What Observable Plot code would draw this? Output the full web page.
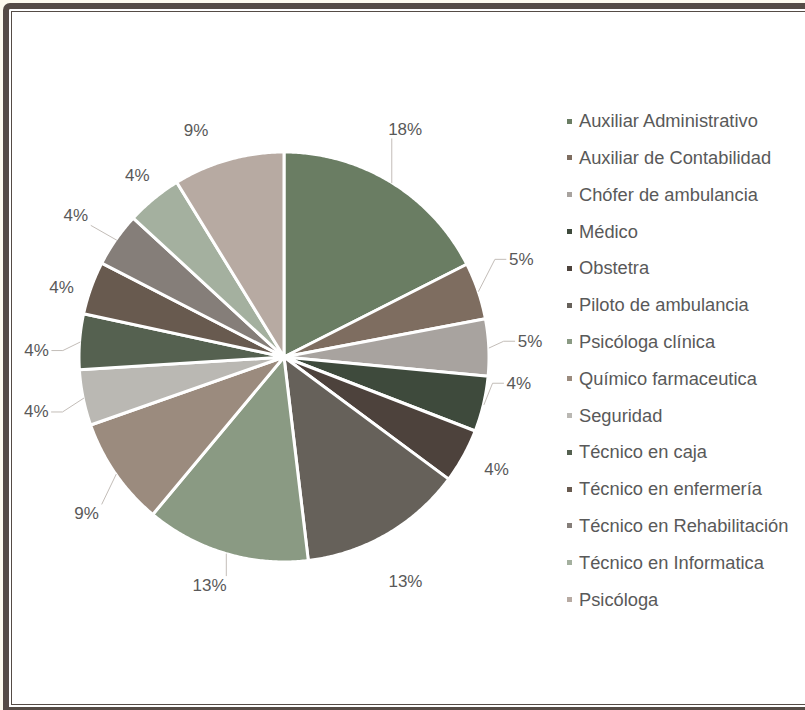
<!DOCTYPE html>
<html><head><meta charset="utf-8">
<script src="https://cdn.jsdelivr.net/npm/d3@7"></script>
<script src="https://cdn.jsdelivr.net/npm/@observablehq/plot@0.6"></script>
<style>
html,body{margin:0;padding:0;width:805px;height:710px;overflow:hidden;background:#fdfbef;font-family:"Liberation Sans",Arial,sans-serif;}
#frame{position:absolute;left:3px;top:3px;width:840px;height:710px;box-sizing:border-box;border:6px solid #554c46;border-right:none;border-radius:7px 0 0 0;background:#fff;}
#inner{position:absolute;left:2px;top:2px;right:-10px;bottom:2px;border:1.5px solid #554c46;}
#chart{position:absolute;left:0;top:0;z-index:2;}
#legend{position:absolute;left:566px;top:102.8px;z-index:3;}
#legend .row{height:36.8px;display:flex;align-items:center;font-size:18.3px;color:#595959;white-space:nowrap;}
#legend .sw{display:inline-block;width:5px;height:5px;margin-right:7px;margin-left:1px;}
</style></head>
<body>
<div id="frame"><div id="inner"></div></div>
<div id="chart"></div>
<div id="legend"></div>
<script>
const categories = ["Auxiliar Administrativo","Auxiliar de Contabilidad","Chófer de ambulancia","Médico","Obstetra","Piloto de ambulancia","Psicóloga clínica","Químico farmaceutica","Seguridad","Técnico en caja","Técnico en enfermería","Técnico en Rehabilitación","Técnico en Informatica","Psicóloga"];
const values = [17.6,4.5,4.5,4.4,4.3,13.0,13.0,8.6,4.4,4.4,4.2,4.3,4.4,8.8];
const labels = ["18%","5%","5%","4%","4%","13%","13%","9%","4%","4%","4%","4%","4%","9%"];
const colors = ["#6a7d63","#7e6d60","#a8a39f","#3e4a3c","#4d423c","#66615a","#8a9a83","#9b8b7e","#bab8b3","#556150","#685a4f","#857e79","#a4b09f","#b7aaa2"];

// layout (label placement, not data)
const labelR = [1.26,1.25,1.2,1.15,1.17,1.24,1.17,1.23,1.24,1.21,1.14,1.23,1.14,1.19];
const labelShift = [-3.7,-3.7,-1.1,-7.0,-1.0,1.7,1.7,-3.5,-0.9,-2.7,-2.3,-0.8,0.4,-5.5];
const hasLeader = [1,1,1,1,0,0,1,1,1,1,0,1,0,0];

const W = 805, H = 710, CX = 284, CY = 357, R = 205, FS = 17;
const deg = Math.PI/180;

const arcs = d3.pie().sort(null).value(d => d)(values);
const slicePts = arcs.flatMap((a, i) => {
  const n = Math.max(2, Math.ceil((a.endAngle - a.startAngle) / (0.5*deg)));
  return d3.range(n + 1).map(k => {
    const t = a.startAngle + (a.endAngle - a.startAngle) * k / n;
    return {cat: categories[i], x: Math.sin(t), y: Math.cos(t)};
  });
});

const labelData = arcs.map((a, i) => {
  const mid = (a.startAngle + a.endAngle) / 2;
  const la = mid + labelShift[i]*deg;
  return {i, text: labels[i], mid, la, x: labelR[i]*Math.sin(la), y: labelR[i]*Math.cos(la)};
});

function textW(s){ let w = 0; for (const c of s) w += (c === "%" ? 0.889 : 0.556); return w*FS; }

const leaderPts = [];
labelData.forEach(d => {
  if (!hasLeader[d.i]) return;
  const Sx = Math.sin(d.mid)*R, Sy = Math.cos(d.mid)*R;
  const Lx = d.x*R, Ly = d.y*R;
  const hw = textW(d.text)/2 + 3, hh = FS*0.45 + 2;
  let pts;
  if (Math.abs(Math.sin(d.la)) > 0.9) {
    const s = Math.sign(Lx);
    const ex = Lx - s*hw, ey = Ly;
    pts = [[Sx, Sy], [ex - s*11, ey], [ex, ey]];
  } else {
    const ex = Math.max(Lx - hw, Math.min(Lx + hw, Sx));
    const ey = Math.max(Ly - hh, Math.min(Ly + hh, Sy));
    pts = [[Sx, Sy], [ex, ey]];
  }
  pts.forEach(p => leaderPts.push({i: d.i, x: p[0]/R, y: p[1]/R}));
});

const chart = Plot.plot({
  width: W, height: H, margin: 0,
  style: {background: "none", fontFamily: "'Liberation Sans', Arial, sans-serif", overflow: "visible"},
  x: {domain: [-CX/R, (W - CX)/R], axis: null},
  y: {domain: [-(H - CY)/R, CY/R], axis: null},
  color: {domain: categories, range: colors},
  marks: [
    Plot.area(slicePts, {x1: "x", y1: "y", x2: 0, y2: 0, z: "cat", fill: "cat", stroke: "white", strokeWidth: 3, strokeLinejoin: "round"}),
    Plot.line(leaderPts, {x: "x", y: "y", z: "i", stroke: "#c3bdb8", strokeWidth: 1}),
    Plot.text(labelData, {x: "x", y: "y", text: "text", fontSize: FS, fill: "#595959"})
  ]
});
document.getElementById("chart").appendChild(chart);

const legend = document.getElementById("legend");
categories.forEach((c, i) => {
  const row = document.createElement("div");
  row.className = "row";
  const sw = document.createElement("span");
  sw.className = "sw"; sw.style.background = colors[i];
  const tx = document.createElement("span");
  tx.textContent = c;
  row.appendChild(sw); row.appendChild(tx);
  legend.appendChild(row);
});
</script>
</body></html>
